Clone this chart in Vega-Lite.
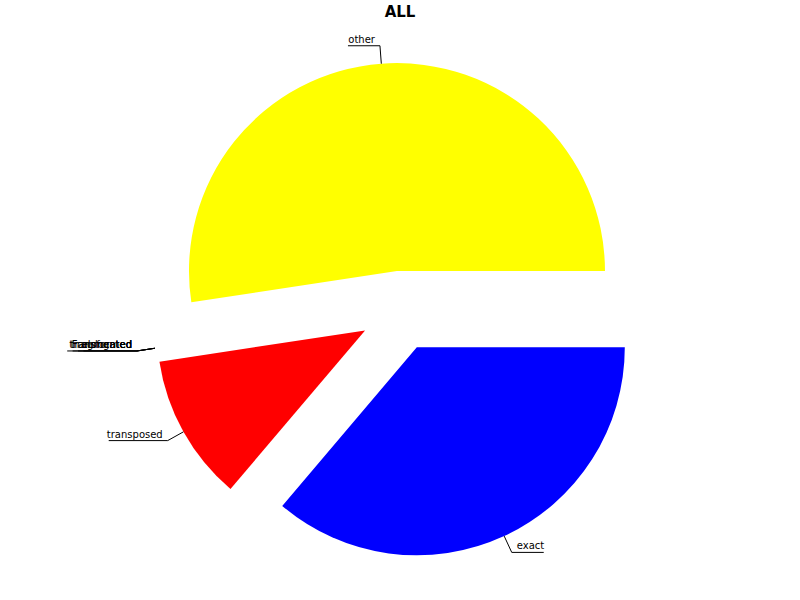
{
  "$schema": "https://vega.github.io/schema/vega-lite/v6.json",
  "width": 800,
  "height": 600,
  "autosize": "none",
  "padding": 0,
  "background": "white",
  "title": {"text": "ALL", "font": "DejaVu Sans", "fontSize": 15, "fontWeight": "bold", "color": "black", "anchor": "middle", "baseline": "bottom", "offset": -35},
  "config": {"view": {"stroke": null}},
  "data": {"values": [
    {"label": "exact", "value": 36.2},
    {"label": "transposed", "value": 11.4},
    {"label": "elongated", "value": 0},
    {"label": "Fragmented", "value": 0},
    {"label": "transformed", "value": 0},
    {"label": "translocated", "value": 0},
    {"label": "other", "value": 52.4}
  ]},
  "transform": [
    {"window": [{"op": "row_number", "as": "order"}]},
    {"stack": "value", "groupby": [], "sort": [{"field": "order", "order": "ascending"}], "as": ["v0", "v1"]},
    {"calculate": "PI/2 + PI*(datum.v0 + datum.v1)/100", "as": "ang"},
    {"calculate": "40*sin(datum.ang)", "as": "ex"},
    {"calculate": "40*cos(datum.ang)", "as": "ey"},
    {"calculate": "248*sin(datum.ang)", "as": "lx1"},
    {"calculate": "248*cos(datum.ang)", "as": "ly1"},
    {"calculate": "266*sin(datum.ang)", "as": "lx2"},
    {"calculate": "266*cos(datum.ang)", "as": "ly2"},
    {"calculate": "datum.lx2 + (datum.lx2 < 0 ? -1 : 1)*(5.4*length(datum.label) + 5)", "as": "lx3"}
  ],
  "layer": [
    {
      "mark": {"type": "arc", "radius": 208},
      "encoding": {
        "theta": {"field": "v0", "type": "quantitative", "scale": {"type": "linear", "domain": [0, 100], "range": [1.5707963, 7.8539816]}},
        "theta2": {"field": "v1"},
        "x": {"field": "ex", "type": "quantitative", "scale": {"domain": [-400, 400], "nice": false, "zero": false}, "axis": null},
        "y": {"field": "ey", "type": "quantitative", "scale": {"domain": [-289, 311], "nice": false, "zero": false}, "axis": null},
        "color": {"field": "label", "type": "nominal", "legend": null,
          "scale": {"domain": ["exact", "transposed", "elongated", "Fragmented", "transformed", "translocated", "other"],
                    "range": ["#0000ff", "#ff0000", "#00bf00", "#00bfbf", "#bf00bf", "#808080", "#ffff00"]}}
      }
    },
    {
      "mark": {"type": "rule", "color": "black", "strokeWidth": 1},
      "encoding": {
        "x": {"field": "lx1", "type": "quantitative", "scale": {"domain": [-400, 400], "nice": false, "zero": false}, "axis": null},
        "y": {"field": "ly1", "type": "quantitative", "scale": {"domain": [-289, 311], "nice": false, "zero": false}, "axis": null},
        "x2": {"field": "lx2"},
        "y2": {"field": "ly2"}
      }
    },
    {
      "mark": {"type": "rule", "color": "black", "strokeWidth": 1},
      "encoding": {
        "x": {"field": "lx2", "type": "quantitative", "scale": {"domain": [-400, 400], "nice": false, "zero": false}, "axis": null},
        "y": {"field": "ly2", "type": "quantitative", "scale": {"domain": [-289, 311], "nice": false, "zero": false}, "axis": null},
        "x2": {"field": "lx3"}
      }
    },
    {
      "transform": [{"filter": "datum.lx2 >= 0"}],
      "mark": {"type": "text", "align": "left", "baseline": "alphabetic", "dx": 5, "dy": -3, "font": "DejaVu Sans", "fontSize": 10, "color": "black"},
      "encoding": {
        "x": {"field": "lx2", "type": "quantitative", "scale": {"domain": [-400, 400], "nice": false, "zero": false}, "axis": null},
        "y": {"field": "ly2", "type": "quantitative", "scale": {"domain": [-289, 311], "nice": false, "zero": false}, "axis": null},
        "text": {"field": "label"}
      }
    },
    {
      "transform": [{"filter": "datum.lx2 < 0"}],
      "mark": {"type": "text", "align": "right", "baseline": "alphabetic", "dx": -5, "dy": -3, "font": "DejaVu Sans", "fontSize": 10, "color": "black"},
      "encoding": {
        "x": {"field": "lx2", "type": "quantitative", "scale": {"domain": [-400, 400], "nice": false, "zero": false}, "axis": null},
        "y": {"field": "ly2", "type": "quantitative", "scale": {"domain": [-289, 311], "nice": false, "zero": false}, "axis": null},
        "text": {"field": "label"}
      }
    }
  ]
}
